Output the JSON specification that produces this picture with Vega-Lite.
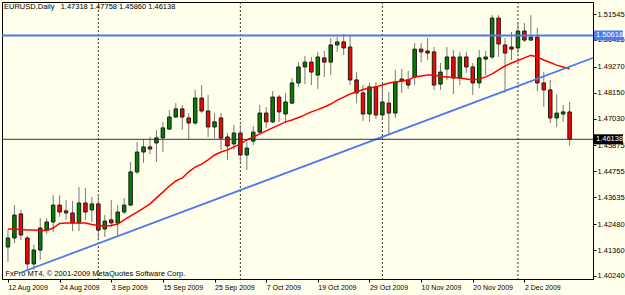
{
  "$schema": "https://vega.github.io/schema/vega-lite/v6.json",
  "width": 591,
  "height": 277,
  "autosize": {"type": "none"},
  "padding": {"left": 2, "top": 2, "right": 32, "bottom": 16},
  "background": "#FFFFEC",
  "config": {
    "view": {"stroke": "#000000", "strokeWidth": 1, "fill": "#FFFFEC"},
    "font": "Liberation Sans",
    "axis": {"labelOverlap": false, "labelFlush": false, "grid": false}
  },
  "title": {
    "text": "EURUSD,Daily\u00a0\u00a0 1.47318 1.47758 1.45860 1.46138",
    "anchor": "start",
    "frame": "group",
    "orient": "top",
    "baseline": "top",
    "offset": -3,
    "dx": 2,
    "dy": 6,
    "fontSize": 7.5,
    "fontWeight": "normal",
    "color": "#000000"
  },
  "data": {
    "values": [
      {"i":0,"date":"2009-08-12","open":1.4149,"high":1.4222,"low":1.4084,"close":1.4188,"ma":1.4227},
      {"i":1,"date":"2009-08-13","open":1.4188,"high":1.4330,"low":1.4166,"close":1.4287,"ma":1.4227},
      {"i":2,"date":"2009-08-14","open":1.4292,"high":1.4309,"low":1.4179,"close":1.4201,"ma":1.4225},
      {"i":3,"date":"2009-08-17","open":1.4188,"high":1.4197,"low":1.4046,"close":1.4076,"ma":1.4222},
      {"i":4,"date":"2009-08-18","open":1.4076,"high":1.4158,"low":1.4050,"close":1.4136,"ma":1.4222},
      {"i":5,"date":"2009-08-19","open":1.4136,"high":1.4274,"low":1.4093,"close":1.4231,"ma":1.4220},
      {"i":6,"date":"2009-08-20","open":1.4222,"high":1.4274,"low":1.4205,"close":1.4257,"ma":1.4220},
      {"i":7,"date":"2009-08-21","open":1.4257,"high":1.4373,"low":1.4214,"close":1.4330,"ma":1.4231},
      {"i":8,"date":"2009-08-24","open":1.4330,"high":1.4373,"low":1.4279,"close":1.4300,"ma":1.4251},
      {"i":9,"date":"2009-08-25","open":1.4305,"high":1.4352,"low":1.4266,"close":1.4296,"ma":1.4253},
      {"i":10,"date":"2009-08-26","open":1.4296,"high":1.4348,"low":1.4218,"close":1.4253,"ma":1.4253},
      {"i":11,"date":"2009-08-27","open":1.4253,"high":1.4408,"low":1.4218,"close":1.4339,"ma":1.4253},
      {"i":12,"date":"2009-08-28","open":1.4339,"high":1.4404,"low":1.4266,"close":1.4300,"ma":1.4253},
      {"i":13,"date":"2009-08-31","open":1.4309,"high":1.4365,"low":1.4257,"close":1.4335,"ma":1.4246},
      {"i":14,"date":"2009-09-01","open":1.4335,"high":1.4378,"low":1.4184,"close":1.4222,"ma":1.4242},
      {"i":15,"date":"2009-09-02","open":1.4227,"high":1.4287,"low":1.4192,"close":1.4261,"ma":1.4240},
      {"i":16,"date":"2009-09-03","open":1.4266,"high":1.4352,"low":1.4235,"close":1.4253,"ma":1.4242},
      {"i":17,"date":"2009-09-04","open":1.4253,"high":1.4330,"low":1.4197,"close":1.4300,"ma":1.4248},
      {"i":18,"date":"2009-09-07","open":1.4300,"high":1.4361,"low":1.4292,"close":1.4330,"ma":1.4266},
      {"i":19,"date":"2009-09-08","open":1.4330,"high":1.4516,"low":1.4326,"close":1.4473,"ma":1.4283},
      {"i":20,"date":"2009-09-09","open":1.4473,"high":1.4602,"low":1.4464,"close":1.4559,"ma":1.4300},
      {"i":21,"date":"2009-09-10","open":1.4559,"high":1.4615,"low":1.4512,"close":1.4581,"ma":1.4317},
      {"i":22,"date":"2009-09-11","open":1.4581,"high":1.4624,"low":1.4550,"close":1.4572,"ma":1.4335},
      {"i":23,"date":"2009-09-14","open":1.4598,"high":1.4654,"low":1.4516,"close":1.4620,"ma":1.4361},
      {"i":24,"date":"2009-09-15","open":1.4620,"high":1.4689,"low":1.4559,"close":1.4663,"ma":1.4386},
      {"i":25,"date":"2009-09-16","open":1.4658,"high":1.4740,"low":1.4654,"close":1.4710,"ma":1.4412},
      {"i":26,"date":"2009-09-17","open":1.4710,"high":1.4770,"low":1.4706,"close":1.4745,"ma":1.4434},
      {"i":27,"date":"2009-09-18","open":1.4745,"high":1.4762,"low":1.4654,"close":1.4710,"ma":1.4447},
      {"i":28,"date":"2009-09-21","open":1.4706,"high":1.4727,"low":1.4611,"close":1.4684,"ma":1.4473},
      {"i":29,"date":"2009-09-22","open":1.4684,"high":1.4827,"low":1.4676,"close":1.4792,"ma":1.4494},
      {"i":30,"date":"2009-09-23","open":1.4792,"high":1.4848,"low":1.4727,"close":1.4736,"ma":1.4507},
      {"i":31,"date":"2009-09-24","open":1.4736,"high":1.4805,"low":1.4624,"close":1.4667,"ma":1.4525},
      {"i":32,"date":"2009-09-25","open":1.4667,"high":1.4727,"low":1.4619,"close":1.4689,"ma":1.4546},
      {"i":33,"date":"2009-09-28","open":1.4706,"high":1.4727,"low":1.4568,"close":1.4619,"ma":1.4559},
      {"i":34,"date":"2009-09-29","open":1.4624,"high":1.4641,"low":1.4525,"close":1.4585,"ma":1.4568},
      {"i":35,"date":"2009-09-30","open":1.4594,"high":1.4676,"low":1.4568,"close":1.4641,"ma":1.4581},
      {"i":36,"date":"2009-10-01","open":1.4641,"high":1.4676,"low":1.4516,"close":1.4546,"ma":1.4594},
      {"i":37,"date":"2009-10-02","open":1.4546,"high":1.4602,"low":1.4481,"close":1.4576,"ma":1.4611},
      {"i":38,"date":"2009-10-05","open":1.4606,"high":1.4671,"low":1.4589,"close":1.4645,"ma":1.4624},
      {"i":39,"date":"2009-10-06","open":1.4645,"high":1.4762,"low":1.4641,"close":1.4727,"ma":1.4637},
      {"i":40,"date":"2009-10-07","open":1.4727,"high":1.4753,"low":1.4663,"close":1.4689,"ma":1.4650},
      {"i":41,"date":"2009-10-08","open":1.4689,"high":1.4822,"low":1.4684,"close":1.4796,"ma":1.4663},
      {"i":42,"date":"2009-10-09","open":1.4796,"high":1.4805,"low":1.4689,"close":1.4732,"ma":1.4676},
      {"i":43,"date":"2009-10-12","open":1.4723,"high":1.4814,"low":1.4684,"close":1.4775,"ma":1.4689},
      {"i":44,"date":"2009-10-13","open":1.4770,"high":1.4878,"low":1.4766,"close":1.4857,"ma":1.4697},
      {"i":45,"date":"2009-10-14","open":1.4857,"high":1.4947,"low":1.4840,"close":1.4926,"ma":1.4708},
      {"i":46,"date":"2009-10-15","open":1.4926,"high":1.4973,"low":1.4852,"close":1.4947,"ma":1.4719},
      {"i":47,"date":"2009-10-16","open":1.4947,"high":1.4969,"low":1.4848,"close":1.4904,"ma":1.4732},
      {"i":48,"date":"2009-10-19","open":1.4891,"high":1.4991,"low":1.4831,"close":1.4969,"ma":1.4742},
      {"i":49,"date":"2009-10-20","open":1.4965,"high":1.4995,"low":1.4883,"close":1.4947,"ma":1.4753},
      {"i":50,"date":"2009-10-21","open":1.4947,"high":1.5051,"low":1.4891,"close":1.5021,"ma":1.4766},
      {"i":51,"date":"2009-10-22","open":1.5021,"high":1.5055,"low":1.4991,"close":1.5034,"ma":1.4783},
      {"i":52,"date":"2009-10-23","open":1.5034,"high":1.5068,"low":1.4978,"close":1.5008,"ma":1.4796},
      {"i":53,"date":"2009-10-26","open":1.5012,"high":1.5060,"low":1.4848,"close":1.4870,"ma":1.4809},
      {"i":54,"date":"2009-10-27","open":1.4870,"high":1.4904,"low":1.4770,"close":1.4814,"ma":1.4818},
      {"i":55,"date":"2009-10-28","open":1.4814,"high":1.4848,"low":1.4693,"close":1.4723,"ma":1.4829},
      {"i":56,"date":"2009-10-29","open":1.4723,"high":1.4857,"low":1.4689,"close":1.4840,"ma":1.4835},
      {"i":57,"date":"2009-10-30","open":1.4840,"high":1.4861,"low":1.4701,"close":1.4719,"ma":1.4840},
      {"i":58,"date":"2009-11-02","open":1.4719,"high":1.4852,"low":1.4706,"close":1.4775,"ma":1.4848},
      {"i":59,"date":"2009-11-03","open":1.4770,"high":1.4818,"low":1.4632,"close":1.4727,"ma":1.4857},
      {"i":60,"date":"2009-11-04","open":1.4727,"high":1.4913,"low":1.4706,"close":1.4861,"ma":1.4861},
      {"i":61,"date":"2009-11-05","open":1.4865,"high":1.4917,"low":1.4814,"close":1.4874,"ma":1.4865},
      {"i":62,"date":"2009-11-06","open":1.4870,"high":1.4909,"low":1.4831,"close":1.4848,"ma":1.4870},
      {"i":63,"date":"2009-11-09","open":1.4883,"high":1.5029,"low":1.4848,"close":1.5003,"ma":1.4883},
      {"i":64,"date":"2009-11-10","open":1.5003,"high":1.5029,"low":1.4947,"close":1.4991,"ma":1.4887},
      {"i":65,"date":"2009-11-11","open":1.4995,"high":1.5051,"low":1.4956,"close":1.4986,"ma":1.4891},
      {"i":66,"date":"2009-11-12","open":1.4991,"high":1.5012,"low":1.4827,"close":1.4848,"ma":1.4891},
      {"i":67,"date":"2009-11-13","open":1.4852,"high":1.4943,"low":1.4827,"close":1.4904,"ma":1.4885},
      {"i":68,"date":"2009-11-16","open":1.4917,"high":1.5012,"low":1.4870,"close":1.4969,"ma":1.4883},
      {"i":69,"date":"2009-11-17","open":1.4969,"high":1.4999,"low":1.4809,"close":1.4878,"ma":1.4880},
      {"i":70,"date":"2009-11-18","open":1.4878,"high":1.4991,"low":1.4848,"close":1.4969,"ma":1.4878},
      {"i":71,"date":"2009-11-19","open":1.4969,"high":1.4991,"low":1.4900,"close":1.4926,"ma":1.4874},
      {"i":72,"date":"2009-11-20","open":1.4926,"high":1.4943,"low":1.4805,"close":1.4857,"ma":1.4870},
      {"i":73,"date":"2009-11-23","open":1.4857,"high":1.4999,"low":1.4835,"close":1.4965,"ma":1.4874},
      {"i":74,"date":"2009-11-24","open":1.4960,"high":1.4995,"low":1.4891,"close":1.4969,"ma":1.4883},
      {"i":75,"date":"2009-11-25","open":1.4969,"high":1.5150,"low":1.4960,"close":1.5137,"ma":1.4896},
      {"i":76,"date":"2009-11-26","open":1.5137,"high":1.5150,"low":1.4969,"close":1.5025,"ma":1.4913},
      {"i":77,"date":"2009-11-27","open":1.5021,"high":1.5051,"low":1.4814,"close":1.4986,"ma":1.4930},
      {"i":78,"date":"2009-11-30","open":1.5012,"high":1.5077,"low":1.4956,"close":1.5003,"ma":1.4943},
      {"i":79,"date":"2009-12-01","open":1.5008,"high":1.5116,"low":1.4986,"close":1.5081,"ma":1.4954},
      {"i":80,"date":"2009-12-02","open":1.5081,"high":1.5116,"low":1.5034,"close":1.5042,"ma":1.4965},
      {"i":81,"date":"2009-12-03","open":1.5042,"high":1.5150,"low":1.5038,"close":1.5055,"ma":1.4976},
      {"i":82,"date":"2009-12-04","open":1.5055,"high":1.5094,"low":1.4822,"close":1.4857,"ma":1.4969},
      {"i":83,"date":"2009-12-07","open":1.4857,"high":1.4904,"low":1.4753,"close":1.4827,"ma":1.4956},
      {"i":84,"date":"2009-12-08","open":1.4827,"high":1.4870,"low":1.4684,"close":1.4706,"ma":1.4945},
      {"i":85,"date":"2009-12-09","open":1.4706,"high":1.4808,"low":1.4667,"close":1.4727,"ma":1.4934},
      {"i":86,"date":"2009-12-10","open":1.4723,"high":1.4762,"low":1.4689,"close":1.4732,"ma":1.4926},
      {"i":87,"date":"2009-12-11","open":1.47318,"high":1.47758,"low":1.45860,"close":1.46138,"ma":1.4917}
    ]
  },
  "layer": [
    {
      "data": {"values": [{"i": 14}, {"i": 36}, {"i": 58}, {"i": 79}]},
      "mark": {"type": "rule", "color": "#333333", "strokeWidth": 1, "strokeDash": [2, 2]},
      "encoding": {
        "x": {"field": "i", "type": "quantitative", "scale": {"domain": [-0.15, 89.85], "nice": false, "zero": false},
          "title": "FxPro MT4, \u00a9 2001-2009 MetaQuotes Software Corp.",
          "axis": {
            "values": [0, 8, 16, 24, 32, 40, 48, 56, 64, 72, 80],
            "tickCount": 30,
            "labelExpr": "['12 Aug 2009','24 Aug 2009','3 Sep 2009','15 Sep 2009','25 Sep 2009','7 Oct 2009','19 Oct 2009','29 Oct 2009','10 Nov 2009','20 Nov 2009','2 Dec 2009'][round(datum.value/8)]",
            "labelAlign": "left",
            "labelBaseline": "top",
            "labelPadding": 1,
            "labelFontSize": 7,
            "labelColor": "#000000",
            "labelFlush": false,
            "labelOverlap": false,
            "tickSize": 3,
            "tickColor": "#000000",
            "domainColor": "#000000",
            "grid": false,
            "titleAnchor": "start",
            "titleAlign": "left",
            "titleBaseline": "bottom",
            "titleX": 3,
            "titleY": -2,
            "titleFontSize": 7.5,
            "titleFontWeight": "normal",
            "titleColor": "#000000"
          }
        }
      }
    },
    {
      "mark": {"type": "rule", "color": "#7a7a7a", "strokeWidth": 1},
      "encoding": {
        "x": {"field": "i", "type": "quantitative", "scale": {"domain": [-0.15, 89.85], "nice": false, "zero": false}},
        "y": {"field": "low", "type": "quantitative", "scale": {"domain": [1.4011, 1.52063], "nice": false, "zero": false},
          "title": null,
          "axis": {
            "orient": "right",
            "values": [1.51545, 1.50425, 1.4927, 1.4815, 1.4703, 1.45875, 1.44755, 1.43635, 1.4248, 1.4136, 1.4024],
            "tickCount": 30,
            "format": ".5f",
            "labelFontSize": 7.5,
            "labelColor": "#000000",
            "labelPadding": 1,
            "labelOverlap": false,
            "labelFlush": false,
            "tickSize": 3,
            "tickColor": "#000000",
            "domainColor": "#000000",
            "grid": false
          }
        },
        "y2": {"field": "high"}
      }
    },
    {
      "mark": {"type": "bar", "size": 3.5, "stroke": "#1a1a1a", "strokeWidth": 1},
      "encoding": {
        "x": {"field": "i", "type": "quantitative", "scale": {"domain": [-0.15, 89.85], "nice": false, "zero": false}},
        "y": {"field": "open", "type": "quantitative", "scale": {"domain": [1.4011, 1.52063], "nice": false, "zero": false}, "title": null},
        "y2": {"field": "close"},
        "color": {"condition": {"test": "datum.close >= datum.open", "value": "#008000"}, "value": "#FF0000"}
      }
    },
    {
      "mark": {"type": "line", "color": "#FF0000", "strokeWidth": 1.5},
      "encoding": {
        "x": {"field": "i", "type": "quantitative", "scale": {"domain": [-0.15, 89.85], "nice": false, "zero": false}},
        "y": {"field": "ma", "type": "quantitative", "scale": {"domain": [1.4011, 1.52063], "nice": false, "zero": false}, "title": null}
      }
    },
    {
      "data": {"values": [{"i": 2, "p": 1.4039}, {"i": 95, "p": 1.5011}]},
      "mark": {"type": "line", "color": "#4C7BE8", "strokeWidth": 1.8, "clip": true},
      "encoding": {
        "x": {"field": "i", "type": "quantitative", "scale": {"domain": [-0.15, 89.85], "nice": false, "zero": false}},
        "y": {"field": "p", "type": "quantitative", "scale": {"domain": [1.4011, 1.52063], "nice": false, "zero": false}, "title": null}
      }
    },
    {
      "data": {"values": [{"p": 1.50618}]},
      "mark": {"type": "rule", "color": "#4C7BE8", "strokeWidth": 2},
      "encoding": {
        "y": {"field": "p", "type": "quantitative", "scale": {"domain": [1.4011, 1.52063], "nice": false, "zero": false}, "title": null}
      }
    },
    {
      "data": {"values": [{"p": 1.46138}]},
      "mark": {"type": "rule", "color": "#333333", "strokeWidth": 1},
      "encoding": {
        "y": {"field": "p", "type": "quantitative", "scale": {"domain": [1.4011, 1.52063], "nice": false, "zero": false}, "title": null}
      }
    },
    {
      "data": {"values": [{"p": 1.50618}]},
      "mark": {"type": "rect", "color": "#4C7BE8", "xOffset": 1, "x2Offset": 30, "yOffset": -5, "y2Offset": 5},
      "encoding": {
        "x": {"value": "width"},
        "x2": {"value": "width"},
        "y": {"field": "p", "type": "quantitative", "scale": {"domain": [1.4011, 1.52063], "nice": false, "zero": false}, "title": null},
        "y2": {"field": "p"}
      }
    },
    {
      "data": {"values": [{"p": 1.50618}]},
      "mark": {"type": "text", "align": "left", "baseline": "middle", "dx": 3, "fontSize": 7.5, "color": "#FFFFFF"},
      "encoding": {
        "x": {"value": "width"},
        "y": {"field": "p", "type": "quantitative", "scale": {"domain": [1.4011, 1.52063], "nice": false, "zero": false}, "title": null},
        "text": {"field": "p", "type": "quantitative", "format": ".5f"}
      }
    },
    {
      "data": {"values": [{"p": 1.46138}]},
      "mark": {"type": "rect", "color": "#000000", "xOffset": 1, "x2Offset": 30, "yOffset": -5, "y2Offset": 5},
      "encoding": {
        "x": {"value": "width"},
        "x2": {"value": "width"},
        "y": {"field": "p", "type": "quantitative", "scale": {"domain": [1.4011, 1.52063], "nice": false, "zero": false}, "title": null},
        "y2": {"field": "p"}
      }
    },
    {
      "data": {"values": [{"p": 1.46138}]},
      "mark": {"type": "text", "align": "left", "baseline": "middle", "dx": 3, "fontSize": 7.5, "color": "#FFFFFF"},
      "encoding": {
        "x": {"value": "width"},
        "y": {"field": "p", "type": "quantitative", "scale": {"domain": [1.4011, 1.52063], "nice": false, "zero": false}, "title": null},
        "text": {"field": "p", "type": "quantitative", "format": ".5f"}
      }
    }
  ]
}
